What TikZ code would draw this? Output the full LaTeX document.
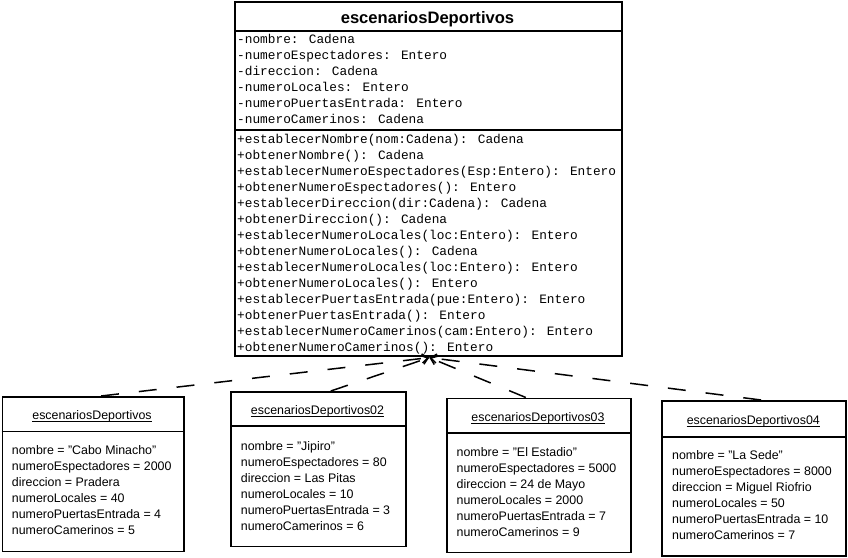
\documentclass[tikz,border=0pt]{standalone}
\usepackage{fontspec}
\setmainfont{Liberation Sans}
\newfontfamily\monof{Liberation Mono}
\usetikzlibrary{arrows.meta}
\begin{document}
\begin{tikzpicture}[x=1pt,y=-1pt,
  box/.style={draw, line width=1.6pt, anchor=north west, inner sep=0pt},
  sepline/.style={line width=1.6pt},
  mtext/.style={anchor=base west, inner sep=0pt, font=\monof\fontsize{12.8}{16}\selectfont},
  mtitle/.style={anchor=base, inner sep=0pt, font=\bfseries\fontsize{16.6}{20}\selectfont},
  otext/.style={anchor=base west, inner sep=0pt, font=\fontsize{12.4}{16}\selectfont},
  otitle/.style={anchor=base, inner sep=0pt, font=\fontsize{12.4}{16}\selectfont},
  uline/.style={line width=0.9pt},
  inst/.style={line width=1.5pt, dash pattern=on 18pt off 20pt, -{Straight Barb[length=6pt,width=9pt]}},
]
\useasboundingbox (0,0) rectangle (848,557);

% main class
\node[box, minimum width=387pt, minimum height=354pt] (main) at (234,1) {};
\node[mtitle] (mt) at (427.5,23) {escenariosDeportivos};
\draw[sepline] ([yshift=-30pt]main.north west) -- ([yshift=-30pt]main.north east);
\draw[sepline] ([yshift=-129pt]main.north west) -- ([yshift=-129pt]main.north east);
\foreach \t [count=\i] in {
  {-nombre: Cadena},
  {-numeroEspectadores: Entero},
  {-direccion: Cadena},
  {-numeroLocales: Entero},
  {-numeroPuertasEntrada: Entero},
  {-numeroCamerinos: Cadena}}
  \node[mtext] (a\i) at (237,27.8+16*\i) {\t};
\foreach \t [count=\i] in {
  {+establecerNombre(nom:Cadena): Cadena},
  {+obtenerNombre(): Cadena},
  {+establecerNumeroEspectadores(Esp:Entero): Entero},
  {+obtenerNumeroEspectadores(): Entero},
  {+establecerDireccion(dir:Cadena): Cadena},
  {+obtenerDireccion(): Cadena},
  {+establecerNumeroLocales(loc:Entero): Entero},
  {+obtenerNumeroLocales(): Cadena},
  {+establecerNumeroLocales(loc:Entero): Entero},
  {+obtenerNumeroLocales(): Entero},
  {+establecerPuertasEntrada(pue:Entero): Entero},
  {+obtenerPuertasEntrada(): Entero},
  {+establecerNumeroCamerinos(cam:Entero): Entero},
  {+obtenerNumeroCamerinos(): Entero}}
  \node[mtext] (m\i) at (237,127.3+16*\i) {\t};

% object 1
\node[box, minimum width=181.5pt, minimum height=154.5pt] (o1) at (1.5,396) {};
\draw[sepline] ([yshift=-35.5pt]o1.north west) -- ([yshift=-35.5pt]o1.north east);
\node[otitle] (t1) at (92,419.3) {escenariosDeportivos};
\draw[uline] ([yshift=-2.6pt]t1.base west) -- ([yshift=-2.6pt]t1.base east);
\foreach \t [count=\i] in {
  {nombre = "Cabo Minacho"},
  {numeroEspectadores = 2000},
  {direccion = Pradera},
  {numeroLocales = 40},
  {numeroPuertasEntrada = 4},
  {numeroCamerinos = 5}}
  \node[otext] (p\i) at (11.7,438.8+16*\i) {\t};

% object 2
\node[box, minimum width=175pt, minimum height=154.7pt] (o2) at (230,391) {};
\draw[sepline] ([yshift=-35pt]o2.north west) -- ([yshift=-35pt]o2.north east);
\node[otitle] (t2) at (317.5,414.3) {escenariosDeportivos02};
\draw[uline] ([yshift=-2.6pt]t2.base west) -- ([yshift=-2.6pt]t2.base east);
\foreach \t [count=\i] in {
  {nombre = "Jipiro"},
  {numeroEspectadores = 80},
  {direccion = Las Pitas},
  {numeroLocales = 10},
  {numeroPuertasEntrada = 3},
  {numeroCamerinos = 6}}
  \node[otext] (q\i) at (240.7,434.3+16*\i) {\t};

% object 3
\node[box, minimum width=184pt, minimum height=154pt] (o3) at (446,397.5) {};
\draw[sepline] ([yshift=-35.2pt]o3.north west) -- ([yshift=-35.2pt]o3.north east);
\node[otitle] (t3) at (538,421) {escenariosDeportivos03};
\draw[uline] ([yshift=-2.6pt]t3.base west) -- ([yshift=-2.6pt]t3.base east);
\foreach \t [count=\i] in {
  {nombre = "El Estadio"},
  {numeroEspectadores = 5000},
  {direccion = 24 de Mayo},
  {numeroLocales = 2000},
  {numeroPuertasEntrada = 7},
  {numeroCamerinos = 9}}
  \node[otext] (r\i) at (456.5,440.3+16*\i) {\t};

% object 4
\node[box, minimum width=184pt, minimum height=155pt] (o4) at (661.3,400) {};
\draw[sepline] ([yshift=-36.7pt]o4.north west) -- ([yshift=-36.7pt]o4.north east);
\node[otitle] (t4) at (753.3,424.3) {escenariosDeportivos04};
\draw[uline] ([yshift=-2.6pt]t4.base west) -- ([yshift=-2.6pt]t4.base east);
\foreach \t [count=\i] in {
  {nombre = "La Sede"},
  {numeroEspectadores = 8000},
  {direccion = Miguel Riofrio},
  {numeroLocales = 50},
  {numeroPuertasEntrada = 10},
  {numeroCamerinos = 7}}
  \node[otext] (s\i) at (672,443.3+16*\i) {\t};

% connectors
\draw[inst] ([xshift=8pt]o1.north) -- ([xshift=1pt,yshift=-1pt]main.south);
\draw[inst] ([xshift=12.5pt]o2.north) -- ([xshift=1pt,yshift=-1pt]main.south);
\draw[inst] ([xshift=-13pt]o3.north) -- ([xshift=1pt,yshift=-1pt]main.south);
\draw[inst] ([xshift=7pt]o4.north) -- ([xshift=1pt,yshift=-1pt]main.south);
\end{tikzpicture}
\end{document}
